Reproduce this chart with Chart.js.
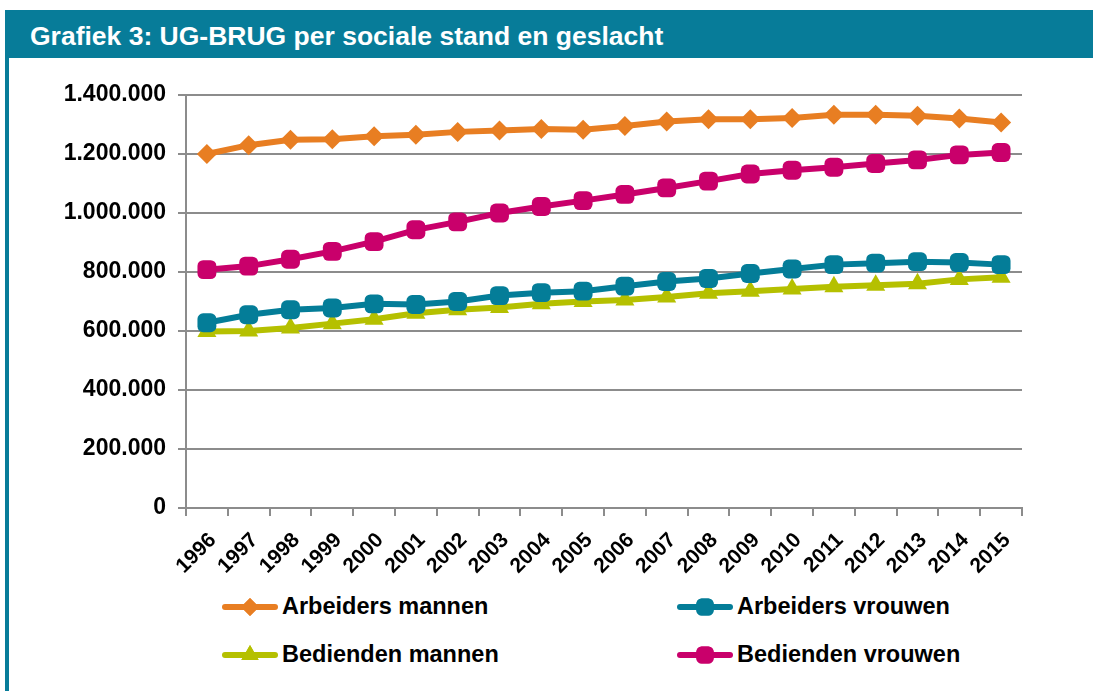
<!DOCTYPE html>
<html>
<head>
<meta charset="utf-8">
<script src="https://cdn.jsdelivr.net/npm/chart.js@4/dist/chart.umd.min.js"></script>
<style>
  html, body { margin: 0; padding: 0; background: #fff; }
  body { width: 1093px; height: 691px; position: relative; overflow: hidden; font-family: "Liberation Sans", Arial, sans-serif; }
  .frame { position: absolute; left: 5px; top: 10px; width: 1088px; height: 681px; border-left: 4px solid #077c99; box-sizing: border-box; }
  .title { position: absolute; left: 5px; top: 10px; width: 1088px; height: 48px; background: #077c99; }
  .title span { position: absolute; left: 25px; top: 0; line-height: 52px; color: #fff; font-weight: bold; font-size: 25px; white-space: nowrap; transform: scaleX(1.06); transform-origin: left center; }
  #wrap { position: absolute; left: 9px; top: 60px; width: 1084px; height: 530px; }
  .legend { position: absolute; left: 0; top: 0; width: 1093px; }
  .item { position: absolute; display: flex; align-items: center; font-weight: bold; font-size: 23.5px; color: #000; white-space: nowrap; }
  .item canvas { margin-right: 4px; }
</style>
</head>
<body>
<div class="frame"></div>
<div class="title"><span>Grafiek 3: UG-BRUG per sociale stand en geslacht</span></div>
<div id="wrap"><canvas id="c"></canvas></div>
<div class="legend" id="legend"></div>
<script>
const years = ['1996','1997','1998','1999','2000','2001','2002','2003','2004','2005',
               '2006','2007','2008','2009','2010','2011','2012','2013','2014','2015'];

const arbeidersMannen = [1200000,1230000,1248000,1250000,1260000,1265000,1275000,1280000,1285000,1282000,
                         1295000,1310000,1318000,1318000,1322000,1333000,1333000,1330000,1320000,1307000];
const arbeidersVrouwen = [628000,655000,672000,678000,692000,690000,700000,720000,730000,735000,
                          752000,768000,778000,795000,810000,825000,830000,835000,832000,825000];
const bediendenMannen = [598000,600000,610000,625000,640000,660000,672000,680000,692000,700000,
                         705000,715000,728000,735000,742000,750000,755000,760000,775000,782000];
const bediendenVrouwen = [808000,820000,843000,870000,903000,943000,970000,1000000,1022000,1042000,
                          1063000,1085000,1108000,1132000,1145000,1155000,1168000,1180000,1197000,1205000];

const yTicks = [0,200000,400000,600000,800000,1000000,1200000,1400000];

const series = [
  { label: 'Arbeiders mannen', data: arbeidersMannen, color: '#e87e22', style: 'rectRot', r: 10 },
  { label: 'Arbeiders vrouwen', data: arbeidersVrouwen, color: '#047d98', style: 'rectRounded', r: 11 },
  { label: 'Bedienden mannen', data: bediendenMannen, color: '#b5c000', style: 'triangle', r: 11 },
  { label: 'Bedienden vrouwen', data: bediendenVrouwen, color: '#c9006b', style: 'rectRounded', r: 11 }
];

// dutch thousands separator
function fmt(v) {
  return String(v).replace(/\B(?=(\d{3})+(?!\d))/g, '.');
}

const yFont = { family: '"Liberation Sans", Arial, sans-serif', size: 23, weight: 'bold' };
const xFont = { family: '"Liberation Sans", Arial, sans-serif', size: 21, weight: 'bold' };

new Chart(document.getElementById('c'), {
  type: 'line',
  data: {
    labels: years,
    datasets: series.map(s => ({
      label: s.label,
      data: s.data,
      borderColor: s.color,
      backgroundColor: s.color,
      borderWidth: 6,
      pointStyle: s.style,
      pointRadius: s.r,
      pointBorderWidth: 0,
      tension: 0
    }))
  },
  options: {
    responsive: true,
    maintainAspectRatio: false,
    animation: false,
    layout: { padding: { top: 35, right: 71, left: 0, bottom: 0 } },
    plugins: { legend: { display: false }, tooltip: { enabled: false } },
    scales: {
      x: {
        offset: true,
        grid: { display: true, drawOnChartArea: false, offset: true, color: '#8c8c8c', lineWidth: 2, tickLength: 8 },
        border: { color: '#8c8c8c', width: 2 },
        ticks: { color: '#000', font: xFont, autoSkip: false, maxRotation: 45, minRotation: 45, padding: 12, labelOffset: 6 },
        afterFit(scale) { scale.height = 82; }
      },
      y: {
        min: 0, max: 1400000,
        afterBuildTicks(scale) { scale.ticks = yTicks.map(v => ({ value: v })); },
        grid: { color: '#8c8c8c', lineWidth: 2, tickLength: 8 },
        border: { color: '#8c8c8c', width: 2 },
        ticks: { color: '#000', font: yFont, padding: 12, callback: v => fmt(v) },
        afterFit(scale) { scale.width = 177; }
      }
    }
  }
});

// HTML legend, two columns
const legendPos = [[222, 593], [677, 593], [222, 641], [677, 641]];
const lg = document.getElementById('legend');
series.forEach((s, i) => {
  const item = document.createElement('div');
  item.className = 'item';
  item.style.left = legendPos[i][0] + 'px';
  item.style.top = legendPos[i][1] + 'px';
  const cv = document.createElement('canvas');
  cv.width = 56; cv.height = 24;
  const ctx = cv.getContext('2d');
  ctx.strokeStyle = s.color; ctx.lineWidth = 6; ctx.lineCap = 'round';
  ctx.beginPath(); ctx.moveTo(3, 12); ctx.lineTo(53, 12); ctx.stroke();
  ctx.fillStyle = s.color;
  Chart.helpers.drawPoint(ctx, { pointStyle: s.style, radius: s.r - 1, borderWidth: 0 }, 28, 12);
  ctx.fill();
  item.appendChild(cv);
  const t = document.createElement('span');
  t.textContent = s.label;
  item.appendChild(t);
  lg.appendChild(item);
});
</script>
</body>
</html>
